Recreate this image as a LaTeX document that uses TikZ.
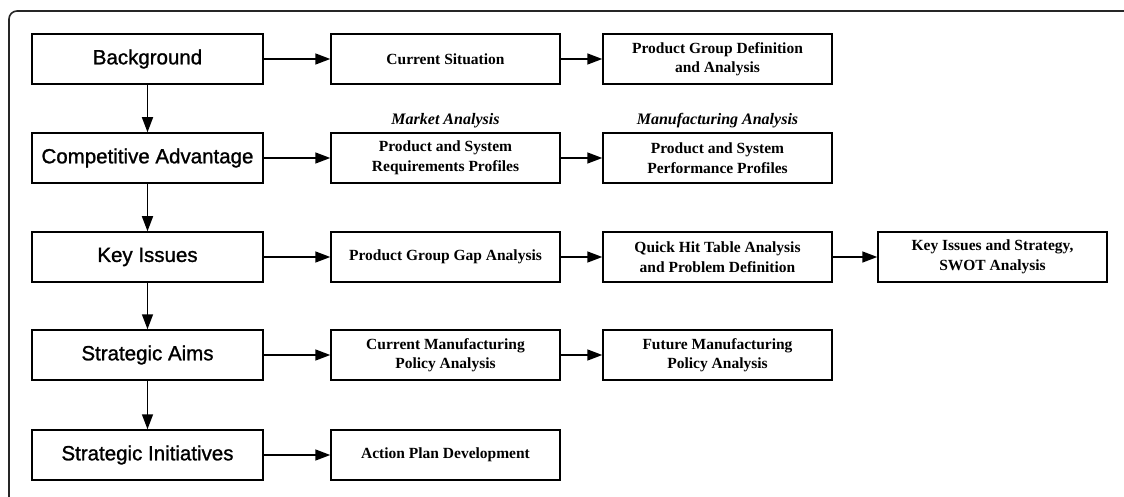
\documentclass[tikz,border=0pt]{standalone}
\usepackage{fontspec}
\setmainfont{Liberation Serif}
\newfontfamily\headfont[FakeBold=1.2]{Liberation Sans}
\usetikzlibrary{arrows.meta,positioning}
\begin{document}
\begin{tikzpicture}[x=1pt,y=-1pt,
  box/.style={draw=black, line width=1.5pt, minimum height=50pt, inner sep=0pt, align=center},
  stage/.style={box, minimum width=231pt, font=\headfont\fontsize{20.5}{24}\selectfont},
  task/.style={box, minimum width=229pt, font=\bfseries\fontsize{15.5}{19.5}\selectfont},
  tag/.style={font=\bfseries\itshape\fontsize{16}{19}\selectfont, inner sep=0pt},
  flow/.style={line width=1.6pt, -{Triangle[length=15pt,width=11pt]}},
  frame/.style={line width=1.6pt, rounded corners=8pt, draw=black!85}
]
\useasboundingbox (0,0) rectangle (1124,497);

% outer frame, running off the right and bottom edges
\begin{scope}
  \clip (0,0) rectangle (1124,497);
  \draw[frame] (9,11) rectangle (1170,540);
\end{scope}

% main stages
\node[stage] (bg)  at (147.5,59)  {Background};
\node[stage] (ca)  at (147.5,158) {Competitive Advantage};
\node[stage] (ki)  at (147.5,257) {Key Issues};
\node[stage] (sa)  at (147.5,355) {Strategic Aims};
\node[stage] (si)  at (147.5,455) {Strategic Initiatives};

% analysis tasks
\node[task] (cs)   at (445.5,59)  {Current Situation};
\node[task] (pgd)  at (717.5,59)  {Product Group Definition\\and Analysis};
\node[task] (req)  at (445.5,158) {Product and System\\Requirements Profiles};
\node[task] (perf) at (717.5,158) {Product and System\\Performance Profiles};
\node[task] (gap)  at (445.5,257) {Product Group Gap Analysis};
\node[task] (qh)   at (717.5,257) {Quick Hit Table Analysis\\and Problem Definition};
\node[task] (swot) at (992.5,257) {Key Issues and Strategy,\\SWOT Analysis};
\node[task] (cmp)  at (445.5,355) {Current Manufacturing\\Policy Analysis};
\node[task] (fmp)  at (717.5,355) {Future Manufacturing\\Policy Analysis};
\node[task] (apd)  at (445.5,455) {Action Plan Development};

% headings over the profile boxes
\node[tag, above=4pt of req.north] (mkt) {Market Analysis};
\node[tag, above=4pt of perf.north] (mfg) {Manufacturing Analysis};

% vertical sequence
\draw[flow] (bg) -- (ca);
\draw[flow] (ca) -- (ki);
\draw[flow] (ki) -- (sa);
\draw[flow] (sa) -- (si);

% horizontal chains
\draw[flow] (bg) -- (cs);
\draw[flow] (cs) -- (pgd);
\draw[flow] (ca) -- (req);
\draw[flow] (req) -- (perf);
\draw[flow] (ki) -- (gap);
\draw[flow] (gap) -- (qh);
\draw[flow] (qh) -- (swot);
\draw[flow] (sa) -- (cmp);
\draw[flow] (cmp) -- (fmp);
\draw[flow] (si) -- (apd);
\end{tikzpicture}
\end{document}
